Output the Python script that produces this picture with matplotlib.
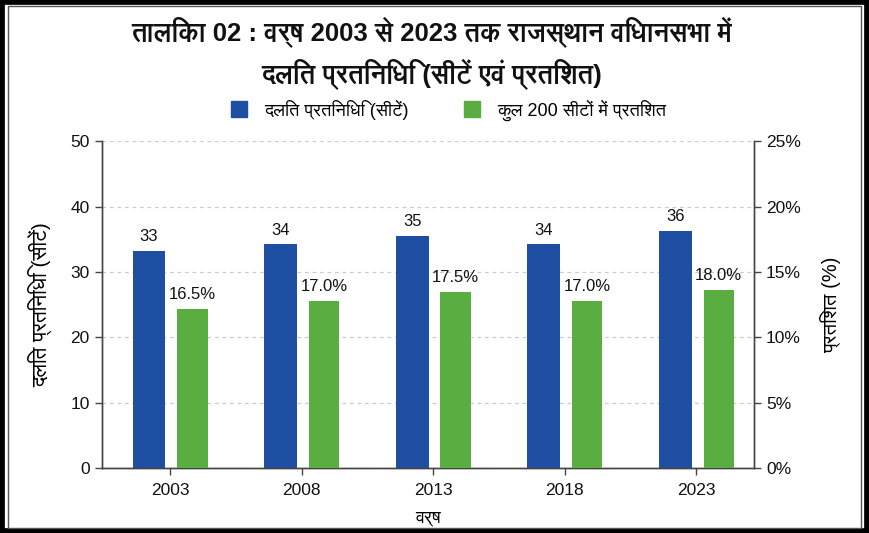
import matplotlib
matplotlib.use('Agg')
import matplotlib.pyplot as plt
from matplotlib import font_manager
from matplotlib.ft2font import FT2Font
from matplotlib.patches import Rectangle
from matplotlib.lines import Line2D
import numpy as np

years = ['2003', '2008', '2013', '2018', '2023']
seats = [33, 34, 35, 34, 36]
seat_bar_heights = [33.2, 34.2, 35.5, 34.2, 36.2]
percent = [16.5, 17.0, 17.5, 17.0, 18.0]
percent_bar_heights = [12.15, 12.8, 13.45, 12.8, 13.65]

title = 'तालिका 02 : वर्ष 2003 से 2023 तक राजस्थान विधानसभा में\nदलित प्रतिनिधि (सीटें एवं प्रतिशत)'
legend_labels = ['दलित प्रतिनिधि (सीटें)', 'कुल 200 सीटों में प्रतिशत']
xlabel = 'वर्ष'
ylabel_left = 'दलित प्रतिनिधि (सीटें)'
ylabel_right = 'प्रतिशत (%)'

blue = '#1f4fa3'
green = '#5aad40'


# look for installed fonts that have devanagari glyphs, prefer non-mono sans
def find_deva_font():
    found = []
    for f in font_manager.fontManager.ttflist:
        try:
            if 0x0915 in FT2Font(f.fname).get_charmap():
                found.append(f.name)
        except Exception:
            pass
    found = sorted(set(found))
    def score(n):
        s = 0
        if 'mono' in n.lower():
            s += 10
        if 'sans' in n.lower():
            s -= 5
        if 'serif' in n.lower() and 'sans' not in n.lower():
            s += 3
        return s
    found.sort(key=score)
    return found[0] if found else None


deva = find_deva_font()
families = ['Liberation Sans'] + ([deva] if deva else []) + ['DejaVu Sans']
plt.rcParams['font.family'] = families

fig = plt.figure(figsize=(8.69, 5.33), dpi=100)
fig.patch.set_facecolor('white')

# outer black border and thin gray inner frame
fig.add_artist(Rectangle((0, 0), 1, 1, transform=fig.transFigure, fill=False,
                         edgecolor='black', linewidth=7))
fig.add_artist(Rectangle((0.009, 0.009), 0.982, 0.98, transform=fig.transFigure,
                         fill=False, edgecolor='#555555', linewidth=1))

ax = fig.add_axes([0.117, 0.122, 0.751, 0.613])
ax2 = ax.twinx()

x = np.arange(len(years))
ax.bar(x - 0.16, seat_bar_heights, width=0.25, color=blue, zorder=3)
ax2.bar(x + 0.17, percent_bar_heights, width=0.23, color=green, zorder=3)

for xi, h, v in zip(x, seat_bar_heights, seats):
    ax.annotate(str(v), (xi - 0.16, h), xytext=(0, 5), textcoords='offset points',
                ha='center', va='bottom', fontsize=12, color='#111111')
for xi, h, v in zip(x, percent_bar_heights, percent):
    ax2.annotate(f'{v:.1f}%', (xi + 0.17, h), xytext=(0, 5), textcoords='offset points',
                 ha='center', va='bottom', fontsize=12, color='#111111')

ax.set_xlim(-0.52, 4.44)
ax.set_ylim(0, 50)
ax2.set_ylim(0, 25)
ax.set_yticks([0, 10, 20, 30, 40, 50])
ax2.set_yticks([0, 5, 10, 15, 20, 25])
ax2.set_yticklabels([f'{t}%' for t in [0, 5, 10, 15, 20, 25]])
ax.set_xticks(x)
ax.set_xticklabels(years)

ax.yaxis.grid(True, linestyle=(0, (3, 3)), color='#cccccc', linewidth=0.9, zorder=0)
ax.set_axisbelow(True)

for a in (ax, ax2):
    a.spines['top'].set_visible(False)
    for s in ('left', 'right', 'bottom'):
        a.spines[s].set_color('#444444')
        a.spines[s].set_linewidth(1.0)
    a.tick_params(labelsize=12.5, colors='#111111', length=5, width=1)
    a.tick_params(axis='both', color='#444444')
ax.tick_params(axis='x', pad=6)

ax.set_xlabel(xlabel, fontsize=13, labelpad=8)
ax.set_ylabel(ylabel_left, fontsize=15, labelpad=13)
ax2.set_ylabel(ylabel_right, fontsize=14.5, labelpad=14)

fig.text(0.497, 0.9, title, ha='center', va='center', fontsize=18.5,
         fontweight='bold', linespacing=1.45, color='#111111')

handles = [Line2D([], [], marker='s', linestyle='none', markersize=11, color=blue),
           Line2D([], [], marker='s', linestyle='none', markersize=11, color=green)]
fig.legend(handles, legend_labels, loc='center', bbox_to_anchor=(0.51, 0.793),
           ncol=2, frameon=False, fontsize=13, handletextpad=0.4, columnspacing=2.5)

fig.savefig('out.png', dpi=100, facecolor='white')
